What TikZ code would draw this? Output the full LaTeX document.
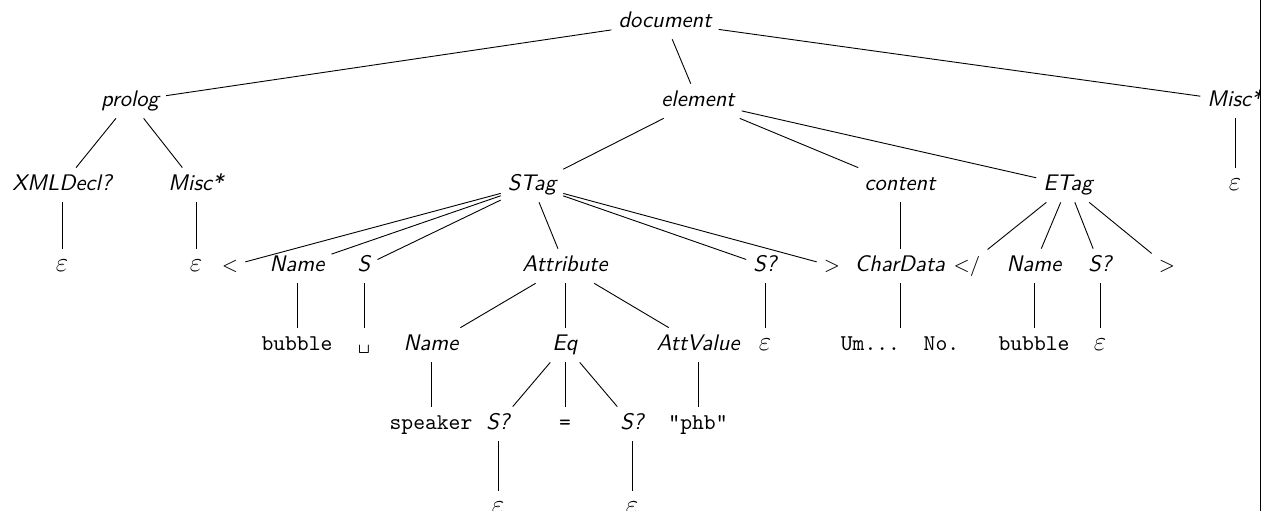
\documentclass[tikz,border=0pt]{standalone}
\begin{document}
\begin{tikzpicture}[x=0.0156cm, y=-0.0156cm,
    every node/.style={inner sep=3pt, text height=7pt, text depth=2pt},
    nt/.style={font=\sffamily\itshape},
    tok/.style={font=\ttfamily},
    sym/.style={font=\sffamily\small},
    eps/.style={font=\large}]
    \useasboundingbox (0,0) rectangle (1269,511);
    \begin{scope}
      \clip (0,0) rectangle (1260,511);
      % level 0 and 1
      \node[nt] (doc)     at (665,22)  {document};
      \node[nt] (prolog)  at (130,101) {prolog};
      \node[nt] (element) at (698,101) {element};
      \node[nt] (misc)    at (1235,101) {Misc*};
      % level 2
      \node[nt] (xmldecl) at (62,185)  {XMLDecl?};
      \node[nt] (pmisc)   at (196,185) {Misc*};
      \node[nt] (stag)    at (532,185) {STag};
      \node[nt] (content) at (900,185) {content};
      \node[nt] (etag)    at (1068,185) {ETag};
      \node[eps] (epsm)   at (1235,185) {$\varepsilon$};
      % level 3
      \node[eps] (epsx)   at (62,266)  {$\varepsilon$};
      \node[eps] (epsp)   at (196,266) {$\varepsilon$};
      \node[sym] (lt)     at (230,266) {<};
      \node[nt] (sname)   at (297,266) {Name};
      \node[nt] (sspace)  at (364,266) {S};
      \node[nt] (attr)    at (565,266) {Attribute};
      \node[nt] (sopt)    at (765,266) {S?};
      \node[sym] (gt)     at (832,266) {>};
      \node[nt] (chardata) at (900,266) {CharData};
      \node[sym] (ltsl)   at (967,266) {</};
      \node[nt] (ename)   at (1034,266) {Name};
      \node[nt] (esopt)   at (1100,266) {S?};
      \node[sym] (egt)    at (1167,266) {>};
      % level 4
      \node[tok] (sbubble) at (297,345) {bubble};
      \node[tok] (vis)    at (364,345) {\textvisiblespace};
      \node[nt] (aname)   at (431,345) {Name};
      \node[nt] (eq)      at (565,345) {Eq};
      \node[nt] (attval)  at (698,345) {AttValue};
      \node[eps] (epss)   at (765,345) {$\varepsilon$};
      \node[tok] (umno)   at (900,345) {Um...\ \ No.};
      \node[tok] (ebubble) at (1034,345) {bubble};
      \node[eps] (epse)   at (1100,345) {$\varepsilon$};
      % level 5
      \node[tok] (speaker) at (431,424) {speaker};
      \node[nt] (eqsa)    at (498,424) {S?};
      \node[tok] (equals) at (565,424) {=};
      \node[nt] (eqsb)    at (632,424) {S?};
      \node[tok] (phb)    at (698,424) {"phb"};
      % level 6
      \node[eps] (epsa)   at (498,508) {$\varepsilon$};
      \node[eps] (epsb)   at (632,508) {$\varepsilon$};
      \foreach \a/\b in {doc/prolog, doc/element, doc/misc,
          prolog/xmldecl, prolog/pmisc, xmldecl/epsx, pmisc/epsp, misc/epsm,
          element/stag, element/content, element/etag,
          stag/lt, stag/sname, stag/sspace, stag/attr, stag/sopt, stag/gt,
          sname/sbubble, sspace/vis, sopt/epss,
          attr/aname, attr/eq, attr/attval, aname/speaker, attval/phb,
          eq/eqsa, eq/equals, eq/eqsb, eqsa/epsa, eqsb/epsb,
          content/chardata, chardata/umno,
          etag/ltsl, etag/ename, etag/esopt, etag/egt,
          ename/ebubble, esopt/epse}
        \draw (\a) -- (\b);
    \end{scope}
    \draw (1260,0) -- (1260,511);
\end{tikzpicture}
\end{document}
